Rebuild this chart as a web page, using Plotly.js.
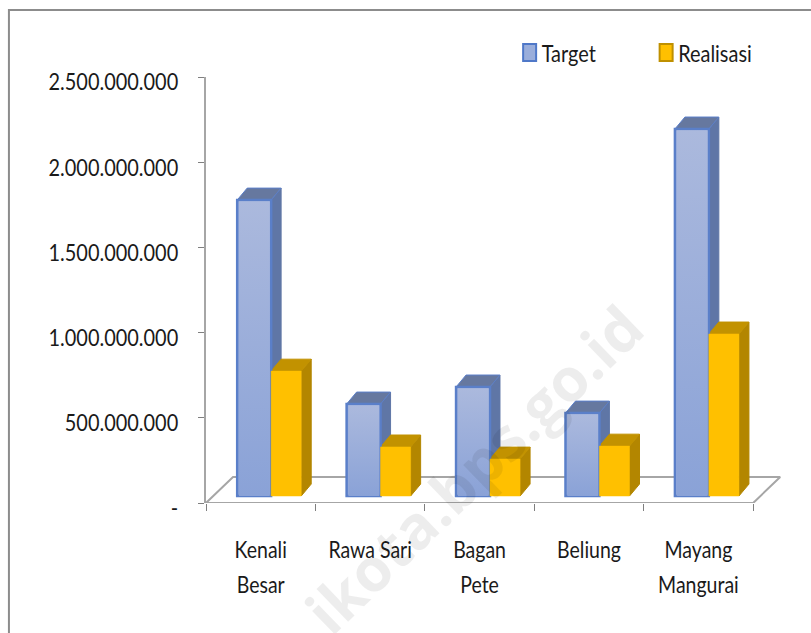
<!DOCTYPE html>
<html><head><meta charset="utf-8">
<script src="https://cdn.plot.ly/plotly-3.0.1.min.js"></script>
<style>html,body{margin:0;padding:0;background:#fff;overflow:hidden}#c{width:811px;height:633px}</style>
</head><body><div id="c"></div>
<script>
const categories = ["Kenali<br>Besar","Rawa Sari","Bagan<br>Pete","Beliung","Mayang<br>Mangurai"];
const target = [1737000000, 540000000, 640000000, 487000000, 2154000000];
const realisasi = [733000000, 288000000, 217000000, 293000000, 951000000];
const yTicks = [0, 500000000, 1000000000, 1500000000, 2000000000, 2500000000];
const yLabels = ["-", "500.000.000", "1.000.000.000", "1.500.000.000", "2.000.000.000", "2.500.000.000"];
const seriesNames = ["Target", "Realisasi"];

const F = "Lato,'Liberation Sans',sans-serif";
const floorV = 41e6, dX = 0.0914, dY = 70e6, floorDX = 0.247, floorDY = 153e6;
const tOff = 0.285, tW = 0.31, rOff = 0.595, rW = 0.275;
const idx = categories.map((_, i) => i);
const traces = [];

// floor
traces.push({type:'scatter',mode:'lines',x:[0,5,5+floorDX,floorDX,0],y:[0,0,floorDY,floorDY,0],
  fill:'toself',fillcolor:'#ffffff',line:{color:'#a6a6a6',width:2},showlegend:false,hoverinfo:'skip',cliponaxis:false});

function box3d(i, vals, off, w, side, top, topLine){
  const xl=i+off, xr=xl+w, t=floorV+vals[i], b=floorV;
  traces.push({type:'scatter',mode:'lines',x:[xr,xr+dX,xr+dX,xr,xr],y:[t,t+dY,b+dY,b,t],
    fill:'toself',fillcolor:side,line:{color:side,width:1},showlegend:false,hoverinfo:'skip'});
  traces.push({type:'scatter',mode:'lines',x:[xl,xl+dX,xr+dX,xr,xl],y:[t,t+dY,t+dY,t,t],
    fill:'toself',fillcolor:top,line:{color:topLine,width:1},showlegend:false,hoverinfo:'skip'});
}
idx.forEach(i => box3d(i,target,tOff,tW,'#5f76a6','#66789f','#5b7fc9'));
idx.forEach(i => box3d(i,realisasi,rOff,rW,'#b38600','#c29200','#c29200'));

// front faces
traces.push({type:'bar',name:seriesNames[0],xaxis:'x2',yaxis:'y2',x:idx.map(i=>i+tOff),y:target,base:floorV,width:tW,offset:0,
  marker:{color:'#9aaedb',line:{color:'#5a7fc9',width:2.5}},hovertemplate:'%{y}<extra>Target</extra>'});
traces.push({type:'bar',name:seriesNames[1],xaxis:'x2',yaxis:'y2',x:idx.map(i=>i+rOff),y:realisasi,base:floorV,width:rW,offset:0,
  marker:{color:'#ffc000',line:{color:'#ffc000',width:0.5}},hovertemplate:'%{y}<extra>Realisasi</extra>'});
// gradient inside target front
idx.forEach(i=>{
  const xl=i+tOff+0.016, xr=i+tOff+tW-0.012, t=floorV+target[i]-7e6, b=floorV;
  traces.push({type:'scatter',mode:'lines',xaxis:'x2',yaxis:'y2',x:[xl,xr,xr,xl,xl],y:[b,b,t,t,b],fill:'toself',
    line:{width:0,color:'rgba(0,0,0,0)'},
    fillgradient:{type:'vertical',colorscale:[[0,'#8aa2d7'],[1,'#abb9dd']]},
    showlegend:false,hoverinfo:'skip'});
});

const layout = {
  width:811,height:633,paper_bgcolor:'#fff',plot_bgcolor:'rgba(0,0,0,0)',
  margin:{l:206,r:25.2,t:77,b:130,autoexpand:false},
  font:{family:F,color:'#1a1a1a',size:24},
  barmode:'overlay',
  xaxis:{range:[0,5.3],tickvals:[0,1,2,3,4,5],ticktext:['','','','','',''],ticks:'outside',ticklen:7,tickwidth:1,tickcolor:'#7f7f7f',
    showline:false,showgrid:false,zeroline:false,fixedrange:true},
  yaxis:{range:[0,2.5e9],tickvals:yTicks,ticktext:yLabels,ticks:'outside',ticklen:6,tickwidth:1,tickcolor:'#7f7f7f',
    showline:true,linecolor:'#a6a6a6',linewidth:2,showgrid:false,zeroline:false,fixedrange:true,
    tickfont:{family:F,size:24,color:'#1a1a1a'},ticklabelstandoff:15,ticklabelshift:5},
  xaxis2:{overlaying:'x',range:[0,5.3],tickvals:idx.map(i=>i+0.5),tickangle:0,
    ticktext:categories.map(c=>c.split('<br>').map(s=>'<span style="font-size:23.5px">'+s+'</span>').join('<br>')),
    ticks:'',showline:false,showgrid:false,zeroline:false,fixedrange:true,anchor:'y2',
    tickfont:{family:F,size:27,color:'#1a1a1a'},ticklabelstandoff:27},
  yaxis2:{overlaying:'y',range:[0,2.5e9],showticklabels:false,ticks:'',showline:false,showgrid:false,zeroline:false,fixedrange:true,anchor:'x2'},
  showlegend:true,
  legend:{orientation:'h',xref:'paper',yref:'paper',x:0.5235,y:1.0563,xanchor:'left',yanchor:'middle',entrywidth:91.5,entrywidthmode:'pixels',
    itemwidth:30,font:{family:F,size:24,color:'#1a1a1a'},bgcolor:'rgba(0,0,0,0)'},
  shapes:[{type:'path',xref:'paper',yref:'paper',
    path:`M ${(9-206)/579.8} -0.6 L ${(9-206)/579.8} ${1+(77-10)/426} L ${(830-206)/579.8} ${1+(77-10)/426}`,
    line:{color:'#8c8c8c',width:2},layer:'below'}],
  annotations:[{xref:'paper',yref:'paper',x:(473-206)/579.8,y:(503-469)/426,xanchor:'center',yanchor:'middle',text:'ikota.bps.go.id',textangle:-44,showarrow:false,
    font:{family:"'Open Sans',sans-serif",size:60,color:'rgba(0,0,0,0.07)',weight:700}}]
};
Plotly.newPlot('c',traces,layout,{displayModeBar:false}).then(gd=>{
  // the reference's type is narrow and tall: condense the real text horizontally
  const squeeze = el => { const n = el.getComputedTextLength();
    el.setAttribute('lengthAdjust','spacingAndGlyphs'); el.setAttribute('textLength', n*0.83); };
  gd.querySelectorAll('.ytick text').forEach(squeeze);
  gd.querySelectorAll('.x2tick text').forEach(t=>{
    if(!t.textContent) return;
    const b=t.getBBox(), cx=b.x+b.width/2, tr=t.getAttribute('transform')||'';
    t.setAttribute('transform', `${tr} translate(${cx},0) scale(0.83,1) translate(${-cx},0)`);
  });
  gd.querySelectorAll('.legendtext').forEach(t=>{ squeeze(t); t.setAttribute('x', +t.getAttribute('x')-8); });
  const borders=['#4f78c8','#bf9000'];
  gd.querySelectorAll('.legendbar, .legendpoints path').forEach((p,i)=>{
    p.setAttribute('d','M6.5,8.5H-6.5V-8.5H6.5Z');
    p.style.stroke=borders[i%2]; p.style.strokeWidth='2px';
  });
});
</script></body></html>
